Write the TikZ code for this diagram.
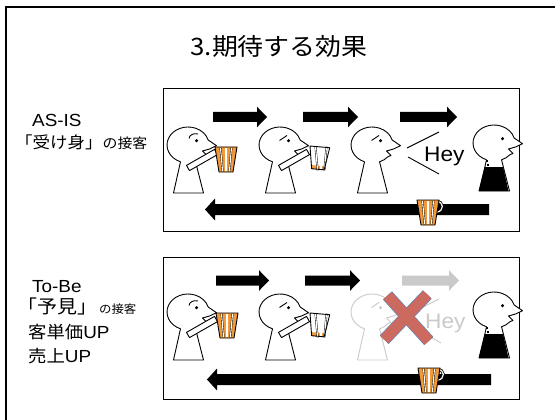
\documentclass[tikz,border=0pt]{standalone}
\usepackage{fontspec}
\setmainfont[FakeStretch=1.08]{Liberation Sans}
\newfontfamily\jpfont[FakeStretch=1.08]{Noto Sans CJK JP}

\definecolor{beer}{HTML}{F29A3A}
\definecolor{faded}{HTML}{CACACA}
\definecolor{crossred}{HTML}{CD6A60}
\definecolor{crossedge}{HTML}{4F81BD}
\colorlet{ink}{black}

% block arrows: \rightblock[colour]{tail}{head start}{tip}{centre y}
\newcommand\rightblock[5][black]{%
  \fill[#1] (#2,#5-5) -- (#3,#5-5) -- (#3,#5-10.3) -- (#4,#5) -- (#3,#5+10.3)
    -- (#3,#5+5) -- (#2,#5+5) -- cycle;}
% \leftblock{tip}{head start}{tail}{centre y}
\newcommand\leftblock[4]{%
  \fill (#1,#4) -- (#2,#4-11) -- (#2,#4-5.5) -- (#3,#4-5.5) -- (#3,#4+5.5)
    -- (#2,#4+5.5) -- (#2,#4+11) -- cycle;}

\newcommand\lblsize{\fontsize{17.5}{21}\selectfont}
\newcommand\jpsize{\fontsize{17}{21}\selectfont}

\tikzset{
  outline/.style={draw=ink, line width=0.9pt, line join=round, fill=white},
  lbl/.style={anchor=base west, inner sep=0pt, font=\lblsize},
  heytext/.style={anchor=base west, inner sep=0pt, font=\fontsize{21}{24}\selectfont},
  % a keyhole-shaped figure facing right, origin at the head centre
  guy/.pic={
    \begin{scope}[yscale=-1]
      \path[outline] (-7.5,-16.8) arc[start angle=249,end angle=16,x radius=21,y radius=18]
        -- (28.5,-0.7) -- (21.5,-4) -- (14.5,-6) -- (19,-10.5) -- (16.1,-11.6)
        arc[start angle=-40,end angle=-69,x radius=21,y radius=18]
        -- (15.5,-48) -- (-14.5,-48) -- cycle;
      \fill[ink] (8.5,4.3) circle (1.7);
    \end{scope}
  },
  browcurve/.pic={
    \begin{scope}[yscale=-1]
      \draw[ink, line width=0.9pt] (1,6.5) .. controls (1.5,10.5) and (6,12) .. (10,11);
    \end{scope}
  },
  browline/.pic={
    \begin{scope}[yscale=-1]
      \draw[ink, line width=0.9pt] (-0.5,4.5) -- (7,9.5);
    \end{scope}
  },
  arm/.pic={
    \begin{scope}[yscale=-1]
      \path[outline] (1.5,-25.6) -- (29.5,-9.6) -- (26.5,-4.4) -- (-1.5,-20.4) -- cycle;
    \end{scope}
  },
  waiter/.pic={
    \pic {guy};
    \begin{scope}[yscale=-1]
      \fill[ink] (-9.1,-24) -- (9.4,-24) -- (15.5,-48) -- (-14.5,-48) -- cycle;
      \fill[ink] (6.3,-17.2) rectangle (8.3,-19.2);
      \fill[ink] (5.2,-20.6) rectangle (7.2,-22.6);
    \end{scope}
  },
  % striped glass, origin at the top left corner of the rim
  stripes/.pic={
    \foreach \t/\b in {5.5/7.6, 11/11, 16.5/14.4}{
      \draw[black, line width=1.9pt] (\t,0.6) -- (\b,24.4);
      \draw[white, line width=1.1pt] (\t,0.6) -- (\b,24.4);
    }
  },
  fullglass/.pic={
    \fill[beer] (0,0) -- (22,0) -- (18,25) -- (4,25) -- cycle;
    \pic {stripes};
    \draw[black, line width=0.9pt, line join=round] (0,0) -- (22,0) -- (18,25) -- (4,25) -- cycle;
  },
  lowglass/.pic={
    \fill[white] (0,0) -- (22,0) -- (18,25) -- (4,25) -- cycle;
    \fill[beer] (3.4,21) -- (18.6,21) -- (18,25) -- (4,25) -- cycle;
    \pic {stripes};
    \draw[black, line width=0.9pt, line join=round] (0,0) -- (22,0) -- (18,25) -- (4,25) -- cycle;
  },
  mug/.pic={
    \draw[black, line width=2.8pt] (20.5,4) .. controls (29,3.5) and (29,15.5) .. (19.3,15.5);
    \draw[white, line width=1.2pt] (20.5,4) .. controls (29,3.5) and (29,15.5) .. (19.3,15.5);
    \pic {fullglass};
  },
}

\begin{document}
\begin{tikzpicture}[x=1pt, y=-1pt]
  \useasboundingbox (0,0) rectangle (555,420);
  \fill[white] (0,0) rectangle (555,420);

  % page frame (only its top and left edges fall inside)
  \draw[line width=1.6pt] (6,420) -- (6,7) -- (555,7);

  \node[anchor=base, inner sep=0pt, font=\fontsize{24}{28}\selectfont] (title) at (279,56)
    {\jpfont 3.期待する効果};

  % ---------- AS-IS ----------
  \node[lbl] (asis) at (32,127) {AS-IS};
  \node[lbl] (ukemi) at (15,148.5)
    {{\jpfont\fontsize{16.2}{20}\selectfont 「受け身」}{\jpfont\fontsize{13.8}{16}\selectfont の接客}};

  \draw[line width=1pt] (163,89) rectangle (519,231);

  \rightblock{213}{257}{267}{117}
  \rightblock{303}{348}{358}{117}
  \rightblock{400}{447}{457}{117}
  \leftblock{205}{215}{489}{209.5}

  \pic at (188,145) {guy};
  \pic at (188,145) {browcurve};
  \pic at (188,145) {arm};
  \pic at (215,147) {fullglass};

  \pic at (280,145) {guy};
  \pic at (280,145) {browline};
  \pic at (280,145) {arm};
  \pic[rotate=-5, scale=0.9] at (310,146) {lowglass};

  \pic at (372,145) {guy};
  \pic at (372,145) {browline};
  \draw[line width=0.9pt] (439,132) -- (407,148);
  \draw[line width=0.9pt] (408,157) -- (439,174);
  \node[heytext] (hey1) at (424,161) {Hey};

  \pic[xscale=-1] at (494,143) {waiter};

  \pic[rotate=6, scale=0.92] at (417,200) {mug};

  % ---------- To-Be ----------
  \node[lbl] (tobe) at (32,292) {To-Be};
  \node[lbl] (yoken) at (17,313.5)
    {{\jpfont\fontsize{18.5}{21}\selectfont 「予見」}\hspace{2pt}{\jpfont\fontsize{11.5}{14}\selectfont の接客}};
  \node[lbl] (tanka) at (28,338) {{\jpfont\jpsize 客単価}UP};
  \node[lbl] (uriage) at (28,362) {{\jpfont\jpsize 売上}UP};

  \draw[line width=1pt] (163,257) rectangle (519,399);

  \rightblock{216}{259}{269}{280.5}
  \rightblock{305}{350}{360}{280.5}
  \rightblock[faded]{402}{449}{459}{280.5}
  \leftblock{207}{217}{491}{379.5}

  \pic at (188,312) {guy};
  \pic at (188,312) {browcurve};
  \pic at (188,312) {arm};
  \pic at (216,313) {fullglass};

  \pic at (280,312) {guy};
  \pic at (280,312) {browline};
  \pic at (280,312) {arm};
  \pic[rotate=-5, scale=0.9] at (310,313) {lowglass};

  \begin{scope}
    \colorlet{ink}{faded}
    \pic at (372,312) {guy};
    \pic at (372,312) {browline};
    \draw[faded, line width=0.9pt] (439,299) -- (407,315);
    \draw[faded, line width=0.9pt] (408,324) -- (441,343);
    \node[heytext, text=faded] (hey2) at (425,328) {Hey};
  \end{scope}

  % cross over the skipped step
  \draw[crossedge, line width=12.2pt] (387.5,295.5) -- (428.8,341);
  \draw[crossedge, line width=12.2pt] (427.3,294.5) -- (384.2,339.7);
  \draw[crossred, line width=11pt] (387.5,295.5) -- (428.8,341);
  \draw[crossred, line width=11pt] (427.3,294.5) -- (384.2,339.7);

  \pic[xscale=-1] at (494,310) {waiter};

  \pic[rotate=6, scale=0.92] at (418,368) {mug};
\end{tikzpicture}
\end{document}
